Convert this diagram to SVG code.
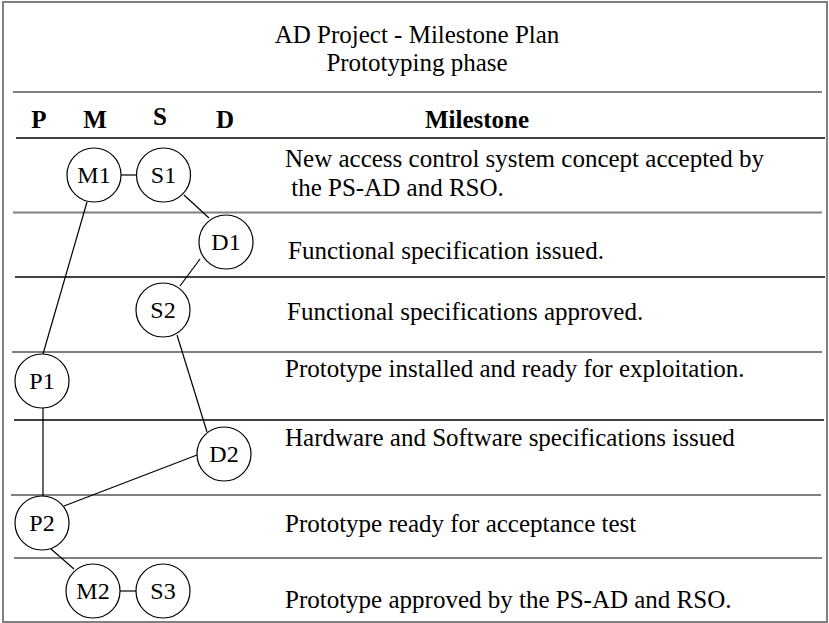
<svg xmlns="http://www.w3.org/2000/svg" width="829" height="623" viewBox="0 0 829 623">
<style>
text { font-family: "Liberation Serif", "Times New Roman", serif; fill: #000; }
.t { font-size: 25px; }
.h { font-size: 25px; font-weight: bold; }
.n { font-size: 24px; text-anchor: middle; }
.g { stroke: #808080; stroke-width: 2; fill: none; }
.k { stroke: #000; stroke-width: 1.5; fill: none; }
circle { fill: #fff; stroke: #000; stroke-width: 1.2; }
.c { stroke: #000; stroke-width: 1.2; fill: none; }
</style>
<rect x="0" y="0" width="829" height="623" fill="#fff"/>
<g id="frame">
<rect x="3" y="2" width="824" height="620" class="g"/>
<line x1="13" y1="92" x2="822" y2="92" class="g"/>
<line x1="16" y1="138" x2="825" y2="138" class="k"/>
<line x1="13" y1="212.5" x2="822" y2="212.5" class="g"/>
<line x1="15" y1="277" x2="825" y2="277" class="k"/>
<line x1="12" y1="352" x2="822" y2="352" class="g"/>
<line x1="14" y1="420" x2="824" y2="420" class="k"/>
<line x1="11" y1="495" x2="821" y2="495" class="g"/>
<line x1="14" y1="558" x2="822" y2="558" class="g"/>
</g>
<g id="title">
<text class="t" x="417" y="43" text-anchor="middle">AD Project - Milestone Plan</text>
<text class="t" x="417" y="71" text-anchor="middle">Prototyping phase</text>
</g>
<g id="header">
<text class="h" x="39" y="128" text-anchor="middle">P</text>
<text class="h" x="95" y="128" text-anchor="middle">M</text>
<text class="h" x="160" y="125" text-anchor="middle">S</text>
<text class="h" x="225" y="128" text-anchor="middle">D</text>
<text class="h" x="477" y="128" text-anchor="middle">Milestone</text>
</g>
<g id="milestones">
<text class="t" x="285" y="167">New access control system concept accepted by</text>
<text class="t" x="285" y="196" xml:space="preserve"> the PS-AD and RSO.</text>
<text class="t" x="288" y="259">Functional specification issued.</text>
<text class="t" x="287" y="320">Functional specifications approved.</text>
<text class="t" x="285" y="377">Prototype installed and ready for exploitation.</text>
<text class="t" x="285" y="446">Hardware and Software specifications issued</text>
<text class="t" x="285" y="532">Prototype ready for acceptance test</text>
<text class="t" x="285" y="608">Prototype approved by the PS-AD and RSO.</text>
</g>
<g id="connectors">
<line x1="121" y1="175" x2="136.5" y2="175" class="c"/>
<line x1="184" y1="195" x2="209" y2="218" class="c"/>
<line x1="200" y1="259" x2="180" y2="286" class="c"/>
<line x1="87" y1="202" x2="43" y2="354" class="c"/>
<line x1="177" y1="335" x2="207" y2="432" class="c"/>
<line x1="43" y1="408" x2="43" y2="496" class="c"/>
<line x1="197" y1="455" x2="64" y2="506" class="c"/>
<line x1="51" y1="549" x2="74" y2="569" class="c"/>
<line x1="120" y1="591" x2="136" y2="591" class="c"/>
</g>
<g id="M1"><circle cx="94" cy="175" r="27"/><text class="n" x="94" y="183">M1</text></g>
<g id="S1"><circle cx="163.5" cy="175" r="27"/><text class="n" x="163.5" y="183">S1</text></g>
<g id="D1"><circle cx="226" cy="242" r="27"/><text class="n" x="226" y="250">D1</text></g>
<g id="S2"><circle cx="163" cy="310" r="27"/><text class="n" x="163" y="318">S2</text></g>
<g id="P1"><circle cx="42" cy="381" r="27"/><text class="n" x="42" y="389">P1</text></g>
<g id="D2"><circle cx="224" cy="454" r="27"/><text class="n" x="224" y="462">D2</text></g>
<g id="P2"><circle cx="42" cy="523" r="27"/><text class="n" x="42" y="531">P2</text></g>
<g id="M2"><circle cx="93" cy="591" r="27"/><text class="n" x="93" y="599">M2</text></g>
<g id="S3"><circle cx="163" cy="591" r="27"/><text class="n" x="163" y="599">S3</text></g>
</svg>
